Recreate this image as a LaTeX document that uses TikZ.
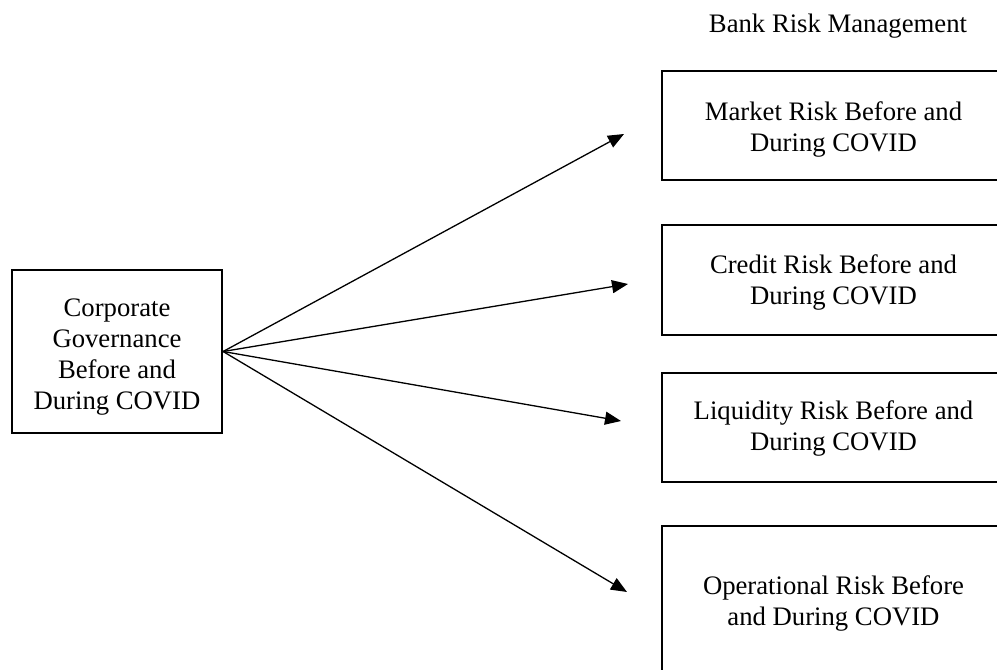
\documentclass[tikz,border=0pt]{standalone}
\usepackage{fontspec}
\setmainfont{Liberation Serif}
\usetikzlibrary{arrows.meta}
\begin{document}
\begin{tikzpicture}[x=1pt,y=-1pt,
  box/.style={draw, line width=2.2pt, rectangle, inner sep=0pt},
  txt/.style={align=center, inner sep=0pt, font=\fontsize{26.7}{31}\selectfont},
  conn/.style={line width=1.3pt, -{Triangle[length=16pt,width=13pt]}},
  lbl/.style={font=\fontsize{26.7}{31}\selectfont, inner sep=0pt}]
\useasboundingbox (0,0) rectangle (997,670);
\clip (0,0) rectangle (997,670);
\fill[white] (0,0) rectangle (997,670);
\node[lbl] (title) at (838,26) {Bank Risk Management};
\node[box, minimum width=210pt, minimum height=163pt] (cg) at (117,351.5) {};
\node[txt] (cgt) at (117,357) {Corporate\\Governance\\Before and\\During COVID};
\node[box, minimum width=343pt, minimum height=109pt] (mr) at (833.5,125.5) {};
\node[txt] (mrt) at (833.5,129) {Market Risk Before and\\During COVID};
\node[box, minimum width=343pt, minimum height=110pt] (cr) at (833.5,280) {};
\node[txt] (crt) at (833.5,282) {Credit Risk Before and\\During COVID};
\node[box, minimum width=343pt, minimum height=109pt] (lr) at (833.5,427.5) {};
\node[txt] (lrt) at (833.5,428) {Liquidity Risk Before and\\During COVID};
\node[box, minimum width=343pt, minimum height=152pt] (or) at (833.5,602) {};
\node[txt] (ort) at (833.5,603) {Operational Risk Before\\and During COVID};
\coordinate (t1) at (624,134);
\coordinate (t2) at (628,284);
\coordinate (t3) at (621,421);
\coordinate (t4) at (627,592);
\coordinate (s) at (cg.east);
\draw[conn] (s) -- (t1);
\draw[conn] (s) -- (t2);
\draw[conn] (s) -- (t3);
\draw[conn] (s) -- (t4);
\end{tikzpicture}
\end{document}
